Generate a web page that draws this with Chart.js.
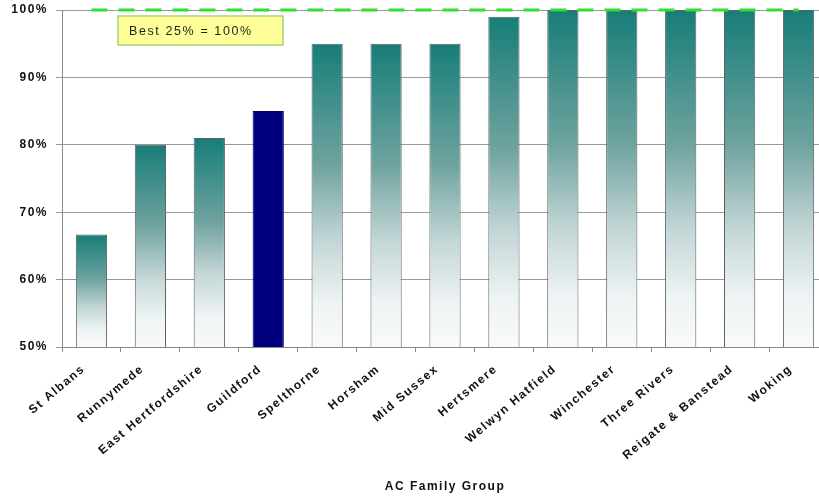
<!DOCTYPE html>
<html>
<head>
<meta charset="utf-8">
<script src="https://cdn.jsdelivr.net/npm/chart.js@4"></script>
<style>
  html, body { margin: 0; padding: 0; background: #fff; overflow: hidden; }
  #wrap { width: 830px; height: 496px; }
</style>
</head>
<body>
<div id="wrap"><canvas id="acChart" width="830" height="496"></canvas></div>
<script>
// AC Family Group comparison
const councils = ['St Albans', 'Runnymede', 'East Hertfordshire', 'Guildford', 'Spelthorne', 'Horsham',
    'Mid Sussex', 'Hertsmere', 'Welwyn Hatfield', 'Winchester', 'Three Rivers', 'Reigate & Banstead', 'Woking'];
const scores = [66.7, 80, 81, 85, 95, 95, 95, 99, 100, 100, 100, 100, 100];
const bestQuartile = [100, 100, 100, 100, 100, 100, 100, 100, 100, 100, 100, 100, 100];
const highlight = 'Guildford';
const yTicks = [50, 60, 70, 80, 90, 100];

const fontFamily = '"Liberation Sans", Arial, sans-serif';

function barFill(context) {
    if (context.type !== 'data') return '#1f7f7d';
    const i = context.dataIndex;
    if (councils[i] === highlight) return '#00007f';
    const chart = context.chart;
    const ys = chart.scales.y;
    if (!ys || ys.top === undefined) return '#1f7f7d';
    const top = ys.getPixelForValue(scores[i]);
    const bottom = ys.getPixelForValue(yTicks[0]);
    if (!isFinite(top) || !isFinite(bottom) || bottom - top < 1) return '#1f7f7d';
    const g = chart.ctx.createLinearGradient(0, top, 0, bottom);
    g.addColorStop(0, '#177d78');
    g.addColorStop(0.4, '#6fa39f');
    g.addColorStop(0.65, '#c3d6d6');
    g.addColorStop(0.85, '#eef3f4');
    g.addColorStop(1, '#f8fafb');
    return g;
}

const spacing = {
    id: 'spacing',
    beforeUpdate(chart) { chart.ctx.letterSpacing = '1.5px'; },
    beforeDraw(chart) { chart.ctx.letterSpacing = '1.5px'; }
};

// yellow "Best 25%" label box
const noteBox = {
    id: 'noteBox',
    afterDraw(chart) {
        const ctx = chart.ctx;
        const a = chart.chartArea;
        const x = a.left + 56, y = a.top + 6, w = 165, h = 29;
        ctx.save();
        ctx.fillStyle = '#ffff99';
        ctx.strokeStyle = '#a6d27a';
        ctx.lineWidth = 1.5;
        ctx.fillRect(x, y, w, h);
        ctx.strokeRect(x, y, w, h);
        ctx.fillStyle = '#222';
        ctx.font = '12.5px ' + fontFamily;
        ctx.letterSpacing = '1.6px';
        ctx.textBaseline = 'middle';
        ctx.fillText('Best 25% = 100%', x + 11, y + h / 2 + 1);
        ctx.restore();
    }
};

new Chart(document.getElementById('acChart'), {
    data: {
        labels: councils,
        datasets: [{
            type: 'line',
            label: 'Best 25%',
            data: bestQuartile,
            borderColor: '#33dd33',
            borderWidth: 3,
            borderDash: [16, 11],
            pointRadius: 0,
            fill: false,
            clip: false,
            order: 0
        }, {
            type: 'bar',
            label: 'Score',
            data: scores,
            backgroundColor: barFill,
            borderColor: ctx => councils[ctx.dataIndex] === highlight ? '#00006a' : '#5a6464',
            borderWidth: 1,
            barPercentage: 0.53,
            categoryPercentage: 1,
            order: 1
        }]
    },
    options: {
        responsive: false,
        animation: false,
        layout: { padding: { top: 0, right: 2, left: 0, bottom: 0 } },
        plugins: {
            legend: { display: false },
            tooltip: { enabled: false }
        },
        scales: {
            x: {
                offset: true,
                afterFit(scale) { scale.height = 149; },
                grid: { offset: true, drawOnChartArea: false, drawTicks: true, tickLength: 5, color: '#888' },
                border: { color: '#888' },
                ticks: {
                    autoSkip: false,
                    maxRotation: 40,
                    minRotation: 40,
                    padding: 10,
                    labelOffset: -8,
                    color: '#111',
                    font: { family: fontFamily, size: 12, weight: 'bold' }
                },
                title: {
                    display: true,
                    text: 'AC Family Group',
                    color: '#111',
                    font: { family: fontFamily, size: 12, weight: 'bold' },
                    padding: { top: 0, bottom: 2 }
                }
            },
            y: {
                min: yTicks[0],
                max: yTicks[yTicks.length - 1],
                afterFit(scale) { scale.width = 62; scale.paddingTop = 10; },
                afterBuildTicks(scale) { scale.ticks = yTicks.map(v => ({ value: v })); },
                grid: { color: '#999', tickLength: 6, lineWidth: 1 },
                border: { color: '#888' },
                ticks: {
                    color: '#111',
                    padding: 8,
                    font: { family: fontFamily, size: 12, weight: 'bold', lineHeight: 1 },
                    callback: v => v + '%'
                }
            }
        }
    },
    plugins: [spacing, noteBox]
});
</script>
</body>
</html>
